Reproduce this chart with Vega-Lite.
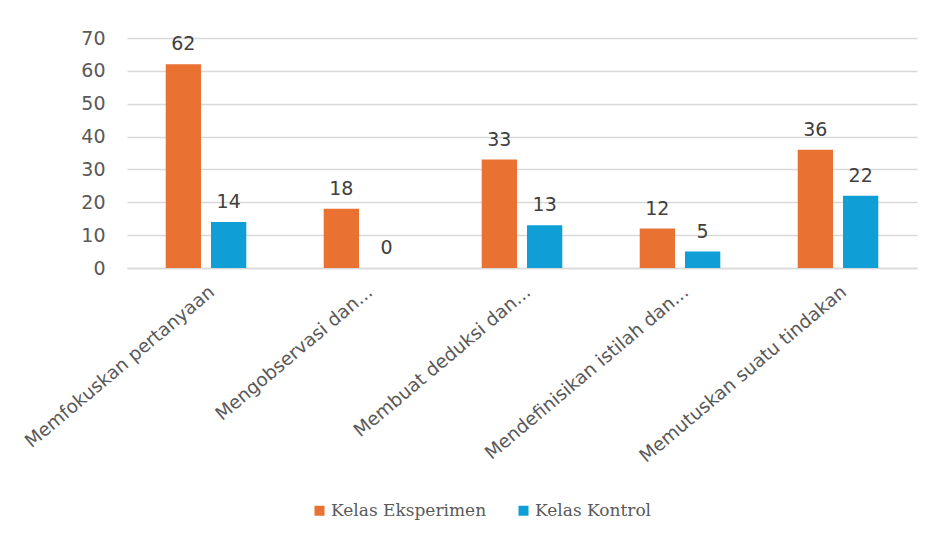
{
  "$schema": "https://vega.github.io/schema/vega-lite/v6.json",
  "width": 790,
  "height": 230,
  "autosize": {"type": "none"},
  "padding": {"left": 127, "top": 38, "right": 14, "bottom": 268},
  "background": "white",
  "config": {"view": {"stroke": null}},
  "data": {
    "values": [
      {"kategori": "Memfokuskan pertanyaan", "kelas": "Kelas Eksperimen", "nilai": 62},
      {"kategori": "Memfokuskan pertanyaan", "kelas": "Kelas Kontrol", "nilai": 14},
      {"kategori": "Mengobservasi dan...", "kelas": "Kelas Eksperimen", "nilai": 18},
      {"kategori": "Mengobservasi dan...", "kelas": "Kelas Kontrol", "nilai": 0},
      {"kategori": "Membuat deduksi dan...", "kelas": "Kelas Eksperimen", "nilai": 33},
      {"kategori": "Membuat deduksi dan...", "kelas": "Kelas Kontrol", "nilai": 13},
      {"kategori": "Mendefinisikan istilah dan...", "kelas": "Kelas Eksperimen", "nilai": 12},
      {"kategori": "Mendefinisikan istilah dan...", "kelas": "Kelas Kontrol", "nilai": 5},
      {"kategori": "Memutuskan suatu tindakan", "kelas": "Kelas Eksperimen", "nilai": 36},
      {"kategori": "Memutuskan suatu tindakan", "kelas": "Kelas Kontrol", "nilai": 22}
    ]
  },
  "encoding": {
    "x": {
      "field": "kategori",
      "type": "nominal",
      "sort": null,
      "scale": {"paddingInner": 0.49, "paddingOuter": 0.245},
      "axis": {
        "title": null,
        "labelAngle": -40,
        "labelFont": "DejaVu Sans",
        "labelFontSize": 18.5,
        "labelColor": "#595959",
        "ticks": false,
        "domainColor": "#D9D9D9",
        "domainWidth": 1.5,
        "labelPadding": 14,
        "labelLimit": 400
      }
    },
    "xOffset": {
      "field": "kelas",
      "type": "nominal",
      "sort": null,
      "scale": {"paddingInner": 0.22, "paddingOuter": 0}
    },
    "y": {
      "field": "nilai",
      "type": "quantitative",
      "scale": {"domain": [0, 70]},
      "axis": {
        "title": null,
        "values": [0, 10, 20, 30, 40, 50, 60, 70],
        "grid": true,
        "gridColor": "#D9D9D9",
        "gridWidth": 1.5,
        "domain": false,
        "ticks": false,
        "labelFont": "DejaVu Sans",
        "labelFontSize": 19,
        "labelColor": "#595959",
        "labelPadding": 22
      }
    }
  },
  "layer": [
    {
      "mark": {"type": "bar"},
      "encoding": {
        "color": {
          "field": "kelas",
          "type": "nominal",
          "sort": null,
          "scale": {"domain": ["Kelas Eksperimen", "Kelas Kontrol"], "range": ["#E97132", "#0F9ED5"]},
          "legend": {
            "title": null,
            "orient": "none",
            "legendX": 184,
            "legendY": 464,
            "direction": "horizontal",
            "labelFont": "DejaVu Serif",
            "labelFontSize": 17,
            "labelColor": "#595959",
            "symbolType": "square",
            "symbolSize": 100,
            "symbolStrokeWidth": 0,
            "columnPadding": 28,
            "labelOffset": 3
          }
        }
      }
    },
    {
      "mark": {"type": "text", "dy": -14, "baseline": "alphabetic", "font": "DejaVu Sans", "fontSize": 19, "color": "#404040"},
      "encoding": {"text": {"field": "nilai", "type": "quantitative"}}
    }
  ]
}
